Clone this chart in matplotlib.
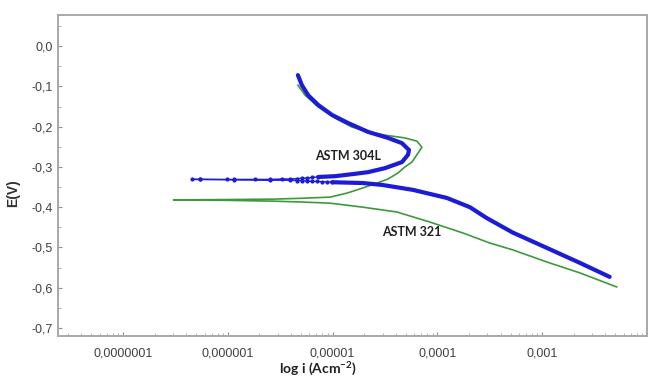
import matplotlib
matplotlib.use("Agg")
import matplotlib.pyplot as plt
import numpy as np

# ---- data: log10 of current density (A/cm^2) and potential E (V) ----
# ASTM 304L, anodic part (thick) from top of scan down to near Ecorr
b304_an_logi = [-5.331, -5.293, -5.233, -5.138, -5.005, -4.852, -4.662, -4.471, -4.338, -4.271,
                -4.281, -4.338, -4.500, -4.662, -4.814, -4.976, -5.138]
b304_an_E = [-0.072, -0.097, -0.122, -0.146, -0.171, -0.191, -0.213, -0.228, -0.241, -0.258,
             -0.270, -0.288, -0.303, -0.313, -0.318, -0.323, -0.325]
# ASTM 304L, measured points around Ecorr (thin line with points)
b304_dot_logi = [-5.138, -5.195, -5.243, -5.290, -5.338, -5.405, -5.481, -5.595, -5.738, -5.938, -6.005,
                 -6.262, -6.338, -6.262, -5.938, -5.595, -5.405, -5.338, -5.290, -5.243, -5.195,
                 -5.148, -5.100, -5.052, -5.005]
b304_dot_E = [-0.325, -0.326, -0.328, -0.328, -0.329, -0.330, -0.330, -0.331, -0.331, -0.331, -0.331,
              -0.331, -0.331, -0.331, -0.332, -0.333, -0.333, -0.334, -0.334, -0.335, -0.336,
              -0.336, -0.337, -0.337, -0.338]
# ASTM 304L, cathodic part (thick)
b304_ca_logi = [-5.005, -4.710, -4.519, -4.233, -3.910, -3.690, -3.529, -3.433, -3.281, -2.957, -2.643, -2.357]
b304_ca_E = [-0.338, -0.340, -0.345, -0.357, -0.377, -0.400, -0.427, -0.441, -0.463, -0.501, -0.538, -0.573]

# ASTM 321, full scan
a321_logi = [-5.331, -5.262, -5.138, -4.976, -4.814, -4.662, -4.500, -4.310, -4.195, -4.148, -4.186,
             -4.243, -4.310, -4.376, -4.471, -4.595, -4.710, -4.862, -5.024, -5.310, -5.567, -6.005,
             -6.519, -6.005, -5.567, -5.310, -5.024, -4.710, -4.386, -4.071, -3.757, -3.500, -3.281,
             -2.957, -2.643, -2.290]
a321_E = [-0.097, -0.122, -0.151, -0.179, -0.201, -0.213, -0.221, -0.228, -0.236, -0.251, -0.266,
          -0.288, -0.300, -0.315, -0.330, -0.342, -0.352, -0.365, -0.375, -0.378, -0.380, -0.381,
          -0.382, -0.383, -0.385, -0.387, -0.390, -0.400, -0.412, -0.437, -0.464, -0.489, -0.506,
          -0.536, -0.563, -0.598]

x_ticks = [1e-7, 1e-6, 1e-5, 1e-4, 1e-3]
x_ticklabels = ["0,0000001", "0,000001", "0,00001", "0,0001", "0,001"]
y_ticks = [0.0, -0.1, -0.2, -0.3, -0.4, -0.5, -0.6, -0.7]
y_ticklabels = ["0,0", "-0,1", "-0,2", "-0,3", "-0,4", "-0,5", "-0,6", "-0,7"]

plt.rcParams['font.family'] = ['Liberation Sans', 'DejaVu Sans']
plt.rcParams['mathtext.default'] = 'regular'

fig = plt.figure(figsize=(6.48, 3.78), dpi=100)
ax = fig.add_axes([0.0895, 0.111, 0.909, 0.849])

blue = '#1c1cd6'
green = '#3c9a3c'

def p(v):
    return np.power(10.0, np.asarray(v))

ax.plot(p(a321_logi), a321_E, color=green, lw=1.2, zorder=2)
ax.plot(p(b304_an_logi), b304_an_E, color=blue, lw=3.0, solid_capstyle='round', zorder=3)
ax.plot(p(b304_ca_logi), b304_ca_E, color=blue, lw=3.0, solid_capstyle='round', zorder=3)
ax.plot(p(b304_dot_logi), b304_dot_E, color=blue, lw=1.0, marker='o', ms=2.0, zorder=3)

ax.set_xscale('log')
ax.set_xticks(x_ticks)
ax.set_xticklabels(x_ticklabels)
ax.set_yticks(y_ticks)
ax.set_yticklabels(y_ticklabels)
ax.set_yticks(np.arange(-0.70, 0.06, 0.05), minor=True)
ax.xaxis.set_minor_locator(matplotlib.ticker.LogLocator(base=10, subs=np.arange(2, 10)))
ax.xaxis.set_minor_formatter(matplotlib.ticker.NullFormatter())
ax.set_xlim(10**-7.62, 10**-2.0)
ax.set_ylim(-0.72, 0.077)

ax.tick_params(axis='both', which='major', direction='in', length=3, width=0.8, color='#909090',
               labelsize=9, labelcolor='#404040')
ax.tick_params(axis='both', which='minor', direction='in', length=2, width=0.6, color='#a0a0a0')
ax.tick_params(axis='x', which='major', pad=8)
ax.tick_params(axis='y', which='major', pad=4)

for s in ax.spines.values():
    s.set_color('#a8a8a8')
    s.set_linewidth(1.4)

fig.text(13 / 648, 1 - 193 / 378, 'E(V)', rotation=90, fontsize=10, fontweight='bold',
         color='#303030', ha='center', va='center')
fig.text(0.49, 1 - 374 / 378, 'log i (Acm$^{-2}$)', fontsize=10, fontweight='bold',
         color='#202020', ha='center', va='baseline', family=['Lato', 'DejaVu Sans'])

ax.text(10**-4.852, -0.273, 'ASTM 304L', fontsize=9, fontweight='bold', color='#202020',
        ha='center', va='center', family=['Lato', 'DejaVu Sans'])
ax.text(10**-4.243, -0.4615, 'ASTM 321', fontsize=9, fontweight='bold', color='#202020',
        ha='center', va='center', family=['Lato', 'DejaVu Sans'])

fig.savefig('out.png', dpi=100)
